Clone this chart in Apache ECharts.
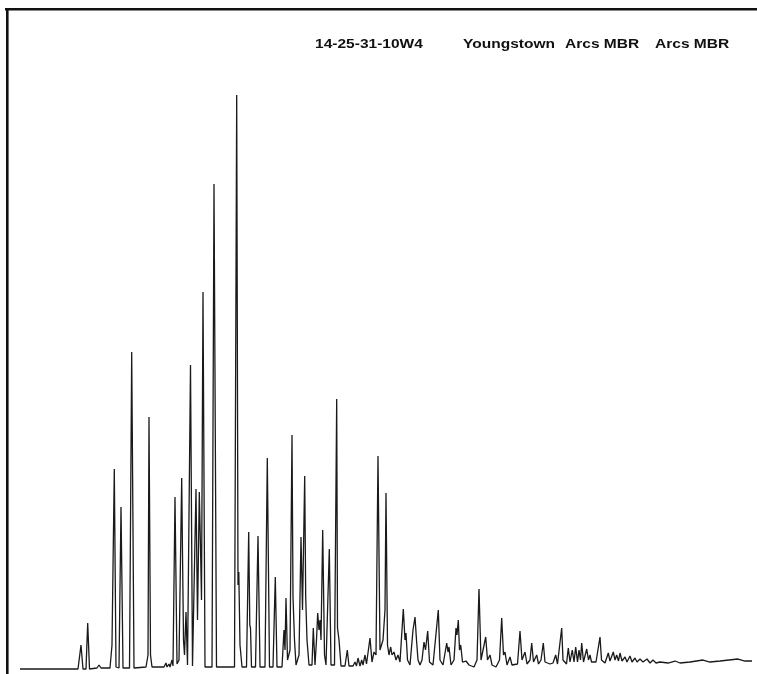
<!DOCTYPE html>
<html>
<head>
<meta charset="utf-8">
<script src="https://cdn.jsdelivr.net/npm/echarts@6/dist/echarts.min.js"></script>
<style>
  html, body { margin: 0; padding: 0; background: #ffffff; }
  #chart { width: 757px; height: 674px; }
</style>
</head>
<body>
<div id="chart"></div>
<script>
// Whole-oil gas chromatogram, well 14-25-31-10W4 (Youngstown, Arcs MBR)
// Detector trace: retention time (min) and detector response (arbitrary units)
const retention = [
  0.0, 5.8, 6.1, 6.3, 6.6, 6.77, 6.95, 7.7, 7.9, 8.1, 9.0, 9.2, 9.43, 9.6, 9.9, 10.1, 10.3, 10.95, 11.17, 11.4,
  12.6, 12.8, 12.9, 13.05, 13.2, 14.4, 14.6, 14.7, 14.9, 15.0, 15.2, 15.3, 15.5, 15.7, 15.9, 16.17, 16.25, 16.35, 16.45, 16.6,
  16.75, 16.9, 17.05, 17.25, 17.45, 17.6, 17.75, 17.93, 18.05, 18.15, 18.3, 18.5, 19.2, 19.4, 19.65, 21.45, 21.67, 21.8, 21.88, 22.0,
  22.2, 22.65, 22.87, 22.98, 23.05, 23.15, 23.55, 23.8, 24.0, 24.5, 24.73, 24.95, 25.3, 25.53, 25.7, 26.2, 26.4, 26.5, 26.6, 26.75,
  27.0, 27.2, 27.3, 27.45, 27.6, 27.9, 28.1, 28.25, 28.47, 28.57, 28.7, 28.9, 29.2, 29.33, 29.5, 29.65, 29.77, 29.9, 30.0, 30.1,
  30.27, 30.45, 30.6, 30.93, 31.1, 31.45, 31.67, 31.75, 31.9, 32.1, 32.5, 32.73, 32.9, 33.3, 33.5, 33.65, 33.8, 34.0, 34.17, 34.3,
  34.5, 34.65, 35.0, 35.2, 35.4, 35.6, 35.8, 36.0, 36.3, 36.5, 36.6, 36.75, 36.9, 37.07, 37.2, 37.4, 37.6, 37.8, 38.0, 38.33,
  38.5, 38.6, 38.75, 39.0, 39.3, 39.5, 39.65, 39.8, 40.0, 40.2, 40.4, 40.55, 40.77, 40.95, 41.3, 41.83, 42.0, 42.3, 42.67, 42.8,
  42.9, 43.1, 43.4, 43.6, 43.7, 43.83, 43.95, 44.07, 44.25, 44.6, 44.9, 45.4, 45.7, 45.9, 46.1, 46.3, 46.57, 46.75, 47.0, 47.2,
  47.6, 47.95, 48.17, 48.35, 48.5, 48.7, 49.0, 49.2, 49.75, 50.0, 50.2, 50.5, 50.7, 51.0, 51.17, 51.35, 51.67, 51.85, 52.1, 52.33,
  52.5, 53.0, 53.3, 53.57, 53.75, 53.95, 54.17, 54.3, 54.5, 54.65, 54.83, 55.0, 55.23, 55.4, 55.57, 55.75, 55.9, 56.05, 56.17, 56.35,
  56.67, 56.85, 57.0, 57.15, 57.33, 57.6, 57.8, 58.0, 58.15, 58.33, 58.5, 58.83, 59.0, 59.33, 59.5, 59.67, 59.85, 60.0, 60.2, 60.5,
  60.7, 61.0, 61.2, 61.5, 61.7, 62.0, 62.3, 62.7, 63.0, 63.3, 63.6, 64.0, 64.8, 65.5, 66.0, 67.0, 68.3, 69.0, 70.0, 71.8,
  72.5, 73.2
];
const response = [
  1, 1, 25, 1, 1, 47, 1, 2, 5, 2, 2, 25, 201, 3, 2, 163, 2, 2, 318, 2,
  3, 15, 253, 15, 3, 3, 7, 3, 6, 3, 10, 4, 173, 6, 10, 192, 117, 30, 15, 58,
  5, 5, 305, 4, 6, 181, 50, 178, 123, 70, 378, 3, 3, 486, 3, 3, 575, 85, 98, 25,
  3, 3, 138, 45, 42, 3, 3, 134, 3, 3, 212, 3, 3, 93, 3, 3, 40, 20, 72, 10,
  20, 235, 73, 30, 5, 15, 133, 60, 194, 73, 30, 5, 5, 42, 5, 30, 57, 40, 50, 30,
  140, 15, 5, 121, 5, 5, 271, 42, 30, 4, 4, 20, 4, 4, 8, 4, 12, 4, 10, 5,
  15, 6, 32, 8, 18, 15, 214, 20, 30, 60, 177, 25, 15, 23, 15, 18, 10, 15, 8, 61,
  30, 37, 10, 5, 40, 53, 30, 10, 5, 10, 28, 20, 39, 8, 5, 60, 10, 5, 27, 18,
  23, 5, 10, 42, 35, 50, 20, 25, 8, 9, 5, 3, 10, 81, 10, 8, 33, 10, 15, 5,
  3, 10, 52, 15, 18, 5, 13, 5, 6, 39, 10, 18, 6, 10, 27, 8, 15, 6, 10, 27,
  8, 6, 7, 15, 6, 6, 42, 10, 12, 6, 22, 8, 20, 8, 23, 8, 20, 10, 27, 8,
  21, 10, 15, 8, 10, 8, 10, 33, 10, 12, 7, 17, 9, 18, 10, 15, 9, 17, 9, 13,
  8, 14, 8, 12, 8, 11, 8, 11, 7, 10, 7, 8, 7, 9, 7, 8, 10, 8, 9, 11,
  9, 9
];

// Header labels
const wellId = '14-25-31-10W4';
const formationLabels = ['Youngstown', 'Arcs MBR', 'Arcs MBR'];

const trace = retention.map((t, i) => [t, response[i]]);

const chart = echarts.init(document.getElementById('chart'), null, { renderer: 'canvas' });

const headerFont = 'bold 13.5px "Liberation Sans", Arial, sans-serif';

// Header text, slightly widened like a typewriter-style plotter font
function headerText(label, x) {
  return {
    type: 'text', x: x, y: 37, scaleX: 1.15, originX: 0, originY: 0,
    style: { text: label, font: headerFont, fill: '#111', textVerticalAlign: 'top' },
    silent: true
  };
}

chart.setOption({
  backgroundColor: '#ffffff',
  animation: false,
  grid: { left: 20, right: 5, top: 70, bottom: 4 },
  xAxis: {
    type: 'value', min: 0, max: 73.2,
    show: false
  },
  yAxis: {
    type: 'value', min: 0, max: 600,
    show: false
  },
  series: [{
    type: 'line',
    data: trace,
    symbol: 'none',
    smooth: false,
    lineStyle: { color: '#1a1a1a', width: 1.3 },
    z: 3
  }],
  graphic: [
    // Outer frame: top and left rules
    { type: 'rect', shape: { x: 5, y: 8, width: 752, height: 2.6 }, style: { fill: '#111' }, silent: true },
    { type: 'rect', shape: { x: 6, y: 8, width: 2.6, height: 666 }, style: { fill: '#111' }, silent: true },
    headerText(wellId, 315),
    headerText(formationLabels[0], 463),
    headerText(formationLabels[1], 565),
    headerText(formationLabels[2], 655)
  ]
});
</script>
</body>
</html>
